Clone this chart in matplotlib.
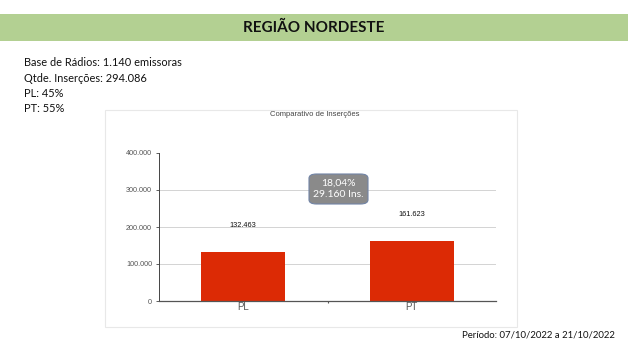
import matplotlib
matplotlib.use("Agg")
import matplotlib.pyplot as plt
from matplotlib.patches import Rectangle, FancyBboxPatch

# dados
categorias = ["PL", "PT"]
insercoes = [132463, 161623]
yticks = [0, 100000, 200000, 300000, 400000]
info_linhas = [
    "Base de Rádios: 1.140 emissoras",
    "Qtde. Inserções: 294.086",
    "PL: 45%",
    "PT: 55%",
]
diferenca_txt = "18,04%\n29.160 Ins."
titulo = "REGIÃO NORDESTE"
titulo_grafico = "Comparativo de Inserções"
periodo = "Período: 07/10/2022 a 21/10/2022"


def fmt_br(v):
    return f"{v:,.0f}".replace(",", ".")


W, H = 628, 351
fig = plt.figure(figsize=(W / 100, H / 100), dpi=100)
fig.patch.set_facecolor("white")

# faixa verde do título
fig.patches.append(Rectangle((0, 1 - 41 / H), 1, 27 / H, transform=fig.transFigure,
                             facecolor="#b3d092", edgecolor="none", zorder=-2))
fig.text(0.5, 1 - 27.5 / H, titulo, ha="center", va="center", fontsize=11,
         fontweight="bold", family="Lato", color="#111111")

# bloco de informações
for i, linha in enumerate(info_linhas):
    fig.text(24 / W, 1 - (63 + i * 15.3) / H, linha, ha="left", va="center",
             fontsize=7.9, family="Lato", color="#111111")

# moldura do gráfico
fig.patches.append(Rectangle((105 / W, 1 - 327 / H), 412 / W, 217 / H,
                             transform=fig.transFigure, facecolor="none",
                             edgecolor="#e8e8e8", linewidth=0.8, zorder=-2))
fig.text(315 / W, 1 - 115 / H, titulo_grafico, ha="center", va="center",
         fontsize=5.5, family="Liberation Sans", color="#444444")

ax = fig.add_axes([159 / W, 1 - 301 / H, 337 / W, 148 / H])
ax.set_facecolor("none")
x = range(len(categorias))
ax.bar(x, insercoes, width=0.5, color="#dc2a05", zorder=3)
ax.set_xlim(-0.5, len(categorias) - 0.5)
ax.set_ylim(0, 400000)
ax.set_yticks(yticks)
ax.set_yticklabels([fmt_br(v) for v in yticks], fontsize=5.2, family="Liberation Sans",
                   color="#555555")
ax.set_xticks(list(x))
ax.set_xticklabels(categorias, fontsize=7, family="Liberation Sans", color="#555555")
ax.set_xticks([0.5], minor=True)
ax.tick_params(axis="x", which="major", length=0, pad=1)
ax.tick_params(axis="x", which="minor", length=1.5, width=0.8, color="#555555")
ax.tick_params(axis="y", length=2.5, width=0.6, color="#444444", pad=2.5)
for v in yticks[1:-1]:
    ax.axhline(v, color="#cccccc", linewidth=0.6, zorder=1)
for s in ["top", "right"]:
    ax.spines[s].set_visible(False)
ax.spines["left"].set_color("#444444")
ax.spines["left"].set_linewidth(0.7)
ax.spines["bottom"].set_color("#555555")
ax.spines["bottom"].set_linewidth(0.9)
ax.spines["bottom"].set_zorder(4)

for xi, v in zip(x, insercoes):
    ax.annotate(fmt_br(v), (xi, v), xytext=(0, 19), textcoords="offset points",
                ha="center", va="center", fontsize=5.3, family="Liberation Sans",
                color="#111111")

# caixa de diferença
caixa = FancyBboxPatch((309 / W, 1 - 204 / H), 59 / W, 30 / H,
                       boxstyle="round,pad=0,rounding_size=0.012",
                       transform=fig.transFigure, facecolor="#8a8a8a",
                       edgecolor="#7184a6", linewidth=0.8, zorder=5)
fig.patches.append(caixa)
fig.text(338.5 / W, 1 - 189 / H, diferenca_txt, ha="center", va="center",
         fontsize=7.5, family="Lato", color="white", linespacing=1.3, zorder=6)

fig.text(615 / W, 1 - 335 / H, periodo, ha="right", va="center", fontsize=6.9,
         family="Lato", color="#111111")

fig.savefig("out.png", dpi=100)
